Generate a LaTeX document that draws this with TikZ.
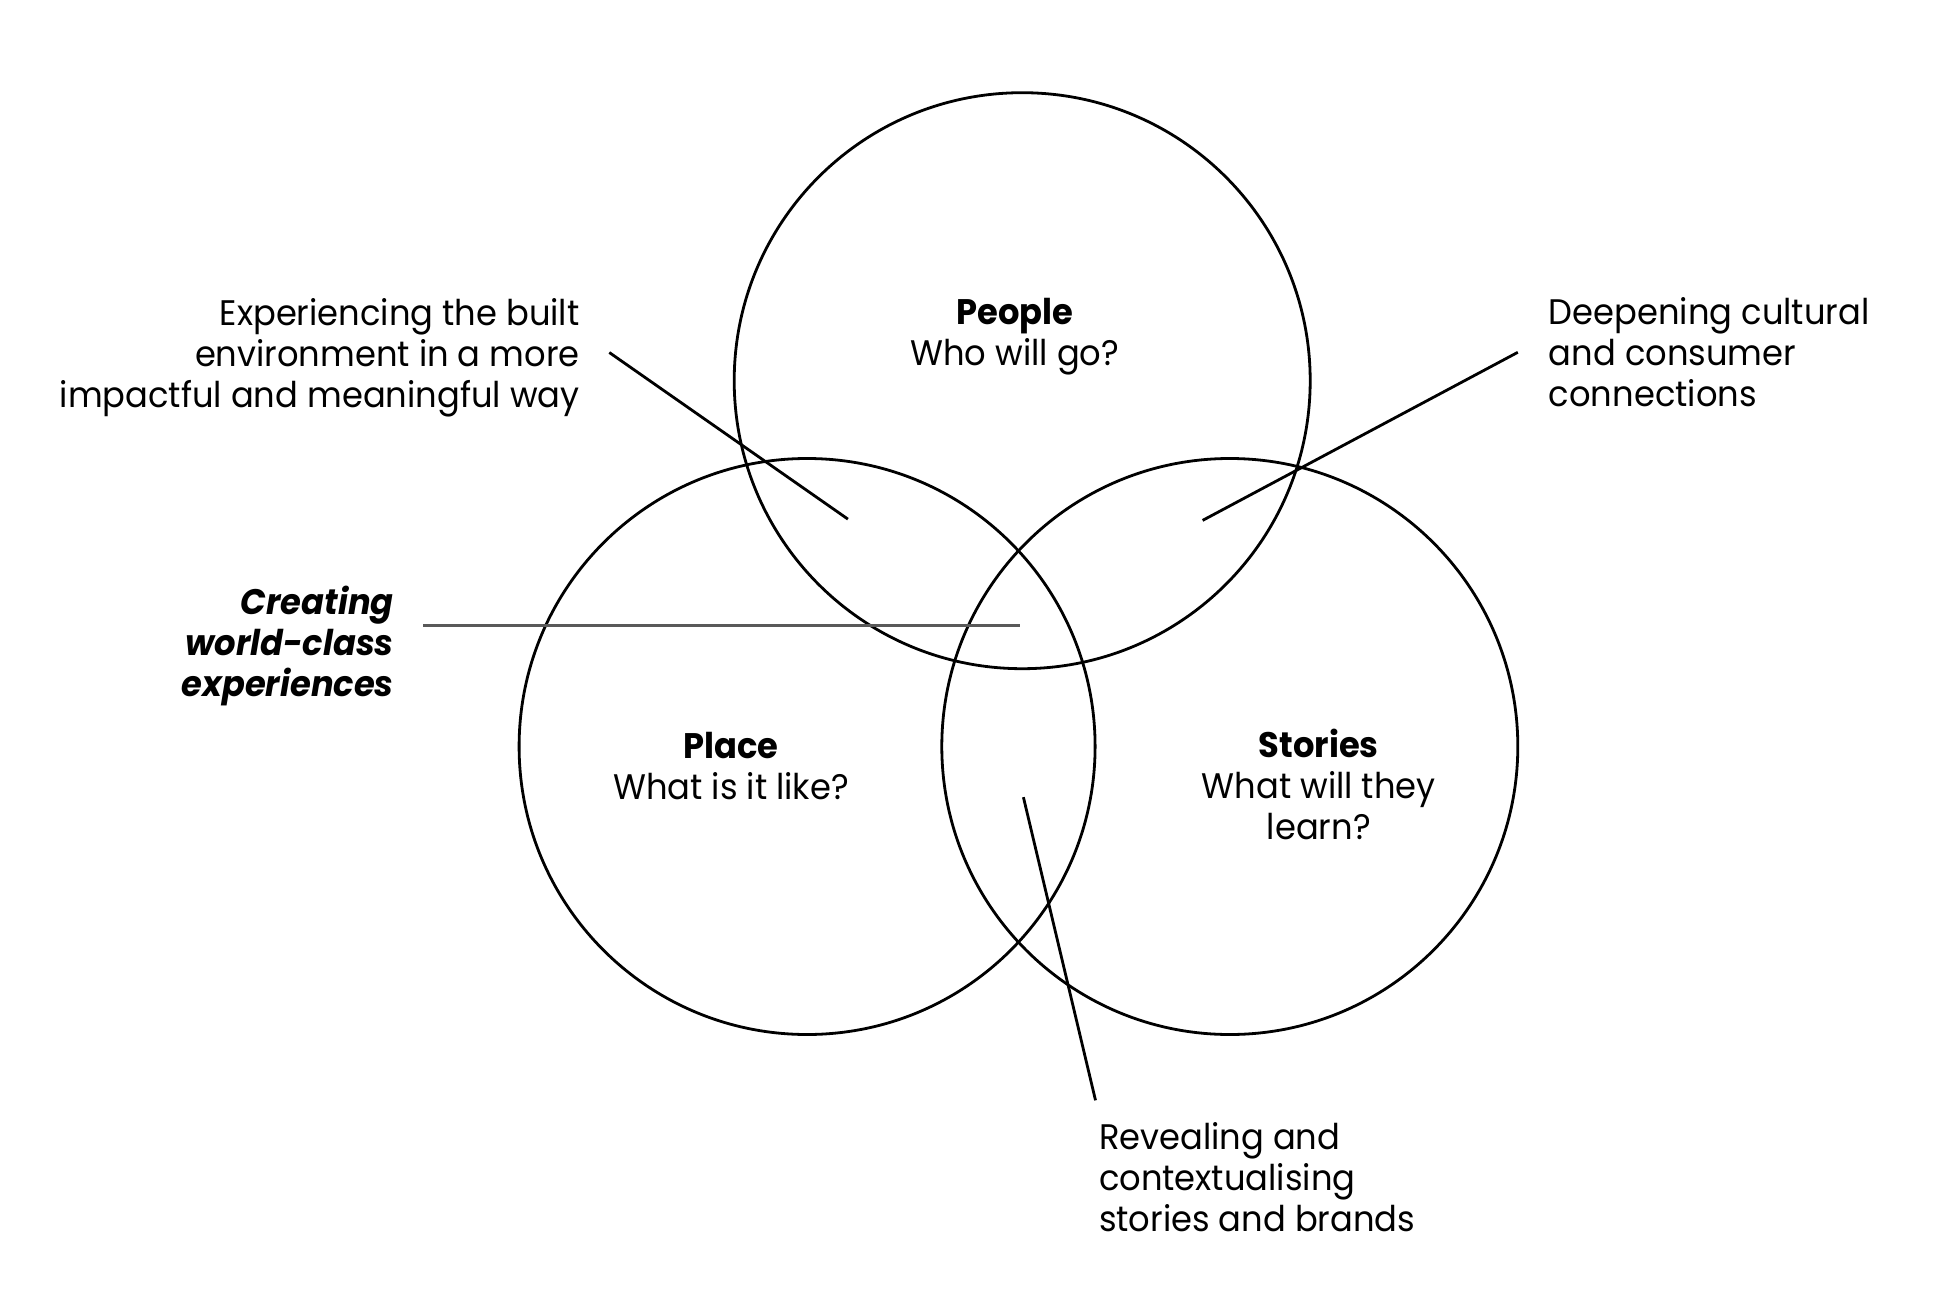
\documentclass[tikz,border=0pt]{standalone}
\usepackage{fontspec}
\setmainfont{Poppins}[FakeStretch=0.95]
\begin{document}
\begin{tikzpicture}[x=1pt,y=-1pt,
  ring/.style={line width=2.8pt, draw=black},
  lead/.style={line width=2.8pt, draw=black},
  graylead/.style={line width=2.8pt, draw=black!65},
  lbl/.style={inner sep=0pt, font=\fontsize{35.5}{41}\selectfont},
]
\useasboundingbox[fill=white] (0,0) rectangle (1938,1316);
% circles
\coordinate (cpeople) at (1022.2,380.7);
\coordinate (cplace) at (807.1,746.5);
\coordinate (cstories) at (1229.8,746.5);
\draw[ring] (cpeople) circle (288);
\draw[ring] (cplace) circle (288);
\draw[ring] (cstories) circle (288);
% circle labels
\node[lbl, align=center] (people) at (1014.8,336.6) {\textbf{People}\\Who will go?};
\node[lbl, align=center] (place) at (731.1,766.1) {\textbf{Place}\\What is it like?};
\node[lbl, align=center] (stories) at (1318.8,784) {\textbf{Stories}\\What will they\\learn?};
% outer labels
\node[lbl, align=right, anchor=east] (built) at (579.7,357.3) {Experiencing the built\\environment in a more\\impactful and meaningful way};
\node[lbl, align=left, anchor=west] (cultural) at (1548.7,351.9) {Deepening cultural\\and consumer\\connections};
\node[lbl, align=right, anchor=east] (world) at (394,646.2) {\textbf{\textit{Creating}}\\\textbf{\textit{world-class}}\\\textbf{\textit{experiences}}};
\node[lbl, align=left, anchor=west] (reveal) at (1098.8,1177) {Revealing and\\contextualising\\stories and brands};
% leader line ends
\coordinate (l1a) at (609.3,352.5);
\coordinate (l1b) at (847.9,519.1);
\coordinate (l2a) at (1517.8,352.3);
\coordinate (l2b) at (1202.6,520.4);
\coordinate (l3a) at (423.1,625.4);
\coordinate (l3b) at (1019.6,625.4);
\coordinate (l4a) at (1023.4,797.2);
\coordinate (l4b) at (1095.5,1100.3);
\draw[lead] (l1a) -- (l1b);
\draw[lead] (l2a) -- (l2b);
\draw[graylead] (l3a) -- (l3b);
\draw[lead] (l4a) -- (l4b);
\end{tikzpicture}
\end{document}
